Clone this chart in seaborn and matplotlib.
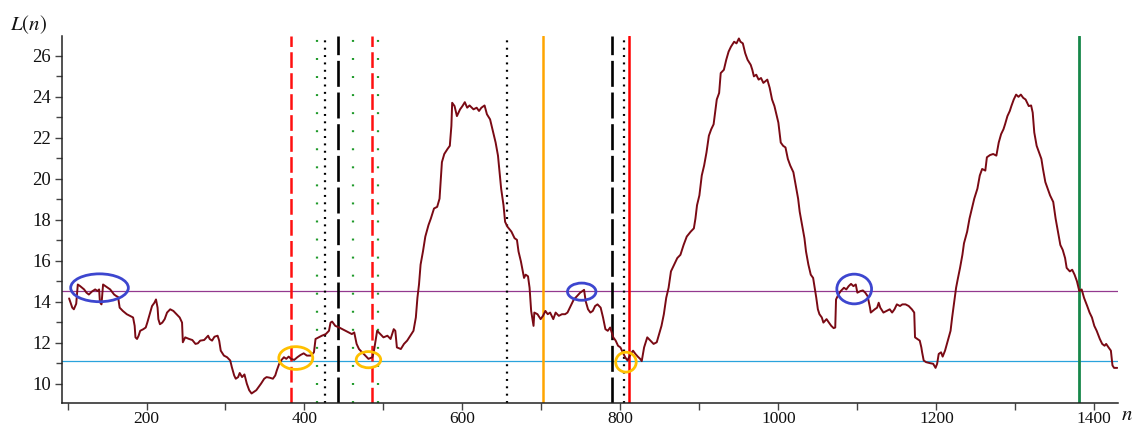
import matplotlib
matplotlib.use("Agg")
import matplotlib.pyplot as plt
from matplotlib.patches import Ellipse
from matplotlib.ticker import FixedLocator
import seaborn as sns
import pandas as pd

# Sequence index and the level L(n)
n_index = [
    102, 106, 108, 111, 113, 116, 121, 124, 127, 131, 135, 138, 140, 141, 143, 145, 148, 151, 154, 159,
    162, 164, 166, 170, 175, 179, 183, 185, 186, 188, 190, 192, 196, 199, 201, 204, 207, 210, 212, 214,
    215, 217, 220, 223, 226, 230, 234, 238, 242, 245, 246, 249, 254, 258, 262, 265, 268, 273, 278, 280,
    283, 286, 290, 292, 294, 298, 302, 306, 308, 311, 313, 316, 318, 321, 324, 327, 330, 333, 336, 339,
    342, 345, 349, 352, 356, 360, 363, 365, 368, 371, 374, 377, 380, 383, 387, 391, 395, 399, 403, 408,
    412, 414, 418, 422, 427, 431, 433, 435, 439, 444, 448, 452, 456, 460, 463, 466, 469, 473, 477, 481,
    486, 488, 490, 492, 496, 500, 505, 509, 513, 515, 517, 522, 526, 530, 534, 538, 541, 543, 545, 547,
    550, 553, 557, 560, 564, 568, 571, 574, 577, 581, 584, 586, 587, 590, 593, 597, 600, 603, 606, 609,
    614, 618, 621, 624, 628, 631, 635, 638, 642, 645, 647, 649, 652, 654, 657, 662, 666, 669, 671, 674,
    678, 680, 683, 685, 687, 690, 691, 695, 699, 702, 705, 708, 711, 715, 718, 722, 726, 730, 733, 737,
    741, 745, 749, 752, 754, 756, 759, 762, 765, 768, 771, 775, 778, 781, 784, 787, 791, 794, 797, 800,
    803, 806, 809, 813, 816, 819, 822, 825, 827, 830, 834, 838, 842, 846, 849, 852, 855, 858, 861, 864,
    868, 872, 876, 880, 884, 889, 893, 895, 897, 900, 903, 906, 909, 912, 915, 918, 922, 925, 927, 931,
    934, 937, 940, 944, 947, 950, 952, 955, 958, 961, 965, 967, 969, 972, 975, 978, 981, 986, 989, 992,
    995, 998, 1000, 1003, 1006, 1009, 1012, 1015, 1019, 1022, 1025, 1027, 1030, 1033, 1035, 1038, 1041, 1044, 1046, 1048,
    1050, 1052, 1055, 1057, 1061, 1064, 1067, 1070, 1072, 1073, 1076, 1079, 1083, 1086, 1089, 1092, 1095, 1098, 1100, 1104,
    1107, 1110, 1113, 1116, 1117, 1122, 1125, 1127, 1129, 1133, 1137, 1141, 1144, 1147, 1150, 1154, 1157, 1161, 1165, 1169,
    1172, 1173, 1176, 1179, 1181, 1182, 1184, 1187, 1192, 1196, 1199, 1201, 1203, 1206, 1208, 1211, 1214, 1218, 1220, 1223,
    1225, 1227, 1230, 1233, 1235, 1239, 1242, 1245, 1248, 1252, 1255, 1258, 1262, 1264, 1268, 1272, 1276, 1279, 1282, 1285,
    1287, 1290, 1293, 1295, 1298, 1301, 1304, 1307, 1310, 1313, 1317, 1320, 1322, 1324, 1327, 1330, 1333, 1335, 1338, 1341,
    1344, 1348, 1351, 1354, 1357, 1360, 1363, 1365, 1369, 1372, 1375, 1378, 1381, 1384, 1387, 1391, 1394, 1397, 1400, 1403,
    1407, 1410, 1413, 1415, 1418, 1421, 1423, 1425, 1429,
]
level = [
    14.16, 13.71, 13.63, 13.90, 14.84, 14.76, 14.60, 14.44, 14.35, 14.50, 14.60, 14.52, 14.60, 13.98, 13.87, 14.84, 14.76, 14.68, 14.60, 14.35,
    14.27, 14.23, 13.71, 13.55, 13.39, 13.31, 13.23, 12.82, 12.26, 12.18, 12.34, 12.58, 12.66, 12.74, 12.98, 13.39, 13.79, 13.95, 14.11, 13.71,
    13.15, 12.90, 12.98, 13.15, 13.47, 13.63, 13.55, 13.39, 13.23, 12.98, 12.02, 12.26, 12.18, 12.13, 11.94, 11.97, 12.10, 12.13, 12.34, 12.18,
    12.10, 12.29, 12.34, 12.10, 11.61, 11.37, 11.29, 11.13, 10.81, 10.40, 10.24, 10.32, 10.52, 10.32, 10.45, 10.00, 9.68, 9.52, 9.60, 9.68,
    9.84, 10.00, 10.24, 10.32, 10.29, 10.24, 10.40, 10.65, 10.97, 11.16, 11.29, 11.21, 11.32, 11.21, 11.16, 11.29, 11.40, 11.48, 11.37, 11.37,
    11.53, 12.18, 12.26, 12.34, 12.42, 12.58, 12.98, 13.03, 12.82, 12.74, 12.66, 12.58, 12.50, 12.42, 12.50, 11.94, 11.69, 11.53, 11.37, 11.21,
    11.29, 11.61, 12.10, 12.58, 12.42, 12.26, 12.34, 12.18, 12.66, 12.58, 11.77, 11.69, 11.94, 12.10, 12.34, 12.58, 13.23, 14.19, 14.84, 15.81,
    16.45, 17.18, 17.74, 18.06, 18.55, 18.63, 19.03, 20.81, 21.21, 21.45, 21.61, 22.58, 23.71, 23.55, 23.06, 23.39, 23.55, 23.74, 23.47, 23.58,
    23.39, 23.47, 23.31, 23.47, 23.58, 23.15, 22.90, 22.42, 21.77, 21.13, 20.32, 19.52, 18.71, 17.90, 17.66, 17.42, 17.10, 17.02, 16.45, 15.97,
    15.16, 15.32, 15.24, 14.68, 13.55, 12.82, 13.47, 13.39, 13.15, 13.31, 13.55, 13.39, 13.47, 13.15, 13.47, 13.31, 13.39, 13.39, 13.47, 13.79,
    14.11, 14.27, 14.44, 14.52, 14.58, 14.03, 13.63, 13.47, 13.55, 13.79, 13.87, 13.71, 13.23, 12.66, 12.58, 12.74, 12.26, 12.10, 11.85, 11.77,
    11.53, 11.29, 11.13, 11.45, 11.61, 11.45, 11.32, 11.21, 11.10, 11.77, 12.26, 12.10, 11.94, 12.02, 12.42, 12.82, 13.39, 14.19, 14.68, 15.48,
    15.81, 16.13, 16.29, 16.77, 17.18, 17.42, 17.58, 18.06, 18.71, 19.19, 20.16, 20.65, 21.29, 22.10, 22.42, 22.66, 23.87, 24.19, 25.16, 25.32,
    25.81, 26.21, 26.45, 26.69, 26.61, 26.85, 26.69, 26.61, 26.13, 25.81, 25.56, 25.32, 25.00, 25.08, 24.84, 24.92, 24.68, 24.84, 24.44, 23.87,
    23.55, 23.06, 22.74, 21.77, 21.61, 21.53, 20.97, 20.65, 20.32, 19.68, 19.03, 18.39, 17.74, 17.10, 16.45, 15.81, 15.32, 15.16, 14.68, 14.19,
    13.63, 13.39, 13.23, 12.98, 13.15, 12.98, 12.82, 12.71, 12.74, 14.11, 14.35, 14.52, 14.68, 14.60, 14.76, 14.87, 14.76, 14.84, 14.44, 14.52,
    14.55, 14.44, 14.27, 13.71, 13.47, 13.63, 13.71, 13.95, 13.71, 13.47, 13.55, 13.63, 13.47, 13.63, 13.87, 13.79, 13.87, 13.87, 13.79, 13.63,
    13.47, 12.26, 12.18, 12.10, 11.77, 11.53, 11.13, 11.05, 11.00, 10.97, 10.77, 10.97, 11.45, 11.53, 11.32, 11.61, 12.02, 12.58, 13.23, 14.11,
    14.68, 15.08, 15.65, 16.29, 16.85, 17.42, 18.06, 18.55, 19.03, 19.52, 20.16, 20.48, 20.40, 21.05, 21.16, 21.21, 21.13, 21.77, 22.18, 22.42,
    22.66, 23.06, 23.31, 23.55, 23.87, 24.11, 24.00, 24.11, 23.95, 23.87, 23.55, 23.58, 23.23, 22.26, 21.61, 21.29, 20.97, 20.48, 19.84, 19.52,
    19.19, 18.87, 18.06, 17.42, 16.77, 16.53, 16.13, 15.65, 15.48, 15.56, 15.32, 15.00, 14.52, 14.60, 14.19, 13.79, 13.47, 13.23, 12.82, 12.58,
    12.18, 11.94, 11.85, 11.94, 11.77, 11.61, 10.89, 10.77, 10.77,
]

# Threshold levels
upper_level = 14.52
lower_level = 11.13

# Marker positions along n
red_dashed_at = [383, 486]
green_dotted_at = [416, 462, 493]
black_dotted_at = [426, 657, 805]
black_dashed_at = [442, 789]
orange_at = [702]
red_solid_at = [811]
green_solid_at = [1381]

# Highlighted regions: (n centre, L centre, width in n, height in L)
blue_marks = [(140.5, 14.68, 73, 1.36), (751, 14.49, 36, 0.84), (1096, 14.62, 44, 1.45)]
orange_marks = [(389, 11.25, 43, 1.11), (481, 11.17, 31, 0.79), (807, 11.05, 26, 0.97)]

x_major = [200, 400, 600, 800, 1000, 1200, 1400]
x_minor = [100, 300, 500, 700, 900, 1100, 1300]
y_major = [10, 12, 14, 16, 18, 20, 22, 24, 26]
y_minor = [11, 13, 15, 17, 19, 21, 23, 25]

sns.set_theme(style="ticks")
plt.rcParams["font.family"] = ["Liberation Serif", "DejaVu Serif"]
plt.rcParams["mathtext.fontset"] = "stix"
plt.rcParams["lines.scale_dashes"] = False

W, H = 1134, 432
fig = plt.figure(figsize=(W / 100, H / 100), dpi=100)
left, right, bottom, top = 62, 1118, 402.5, 36
ax = fig.add_axes([left / W, 1 - bottom / H, (right - left) / W, (bottom - top) / H])

# Reference levels
ax.axhline(upper_level, color="#93398f", lw=0.9, zorder=1)
ax.axhline(lower_level, color="#2aa3dc", lw=0.9, zorder=1)

# Vertical markers
for x in red_dashed_at:
    ax.axvline(x, color="#ff1010", lw=1.8, dashes=(11.3, 3.8), zorder=2)
for x in green_dotted_at:
    ax.axvline(x, color="#1f9a2a", lw=1.6, dashes=(1.4, 11.6), zorder=2)
for x in black_dotted_at:
    ax.axvline(x, color="black", lw=1.6, dashes=(1.4, 3.9), zorder=2)
for x in black_dashed_at:
    ax.axvline(x, color="black", lw=1.9, dashes=(18.7, 4.1), zorder=2)
for x in orange_at:
    ax.axvline(x, color="#ffa500", lw=1.8, zorder=2)
for x in red_solid_at:
    ax.axvline(x, color="#ff0000", lw=1.8, zorder=2)
for x in green_solid_at:
    ax.axvline(x, color="#17874a", lw=2.0, zorder=2)

df = pd.DataFrame({"n": n_index, "L": level})
sns.lineplot(data=df, x="n", y="L", ax=ax, color="#7a0a14", lw=1.4,
             estimator=None, sort=False, zorder=3)

for cx, cy, w, h in blue_marks:
    ax.add_patch(Ellipse((cx, cy), w, h, fill=False, ec="#3d46cf", lw=2.0, zorder=4))
for cx, cy, w, h in orange_marks:
    ax.add_patch(Ellipse((cx, cy), w, h, fill=False, ec="#ffc000", lw=2.0, zorder=4))

ax.set_xlim(93, 1430)
ax.set_ylim(9.08, 26.97)
ax.set_xticks(x_major)
ax.set_xticklabels([str(v) for v in x_major])
ax.xaxis.set_minor_locator(FixedLocator(x_minor))
ax.set_yticks(y_major)
ax.set_yticklabels([str(v) for v in y_major])
ax.yaxis.set_minor_locator(FixedLocator(y_minor))
ax.set_xlabel("")
ax.set_ylabel("")

sns.despine(ax=ax)
for side in ("left", "bottom"):
    ax.spines[side].set_color("#222222")
    ax.spines[side].set_linewidth(1.1)

ax.tick_params(axis="x", which="both", length=5.0, width=1.0, color="#444444",
               labelsize=12.5, pad=1.0, labelcolor="#111111")
ax.tick_params(axis="y", which="major", length=5.0, width=1.0, color="#444444",
               labelsize=13.5, pad=3.0, labelcolor="#111111")
ax.tick_params(axis="y", which="minor", length=4.0, width=1.0, color="#444444")

fig.text(10 / W, 1 - 25 / H, "$L(n)$", ha="left", va="center", fontsize=15, color="#111111")
fig.text(1127 / W, 1 - 416 / H, "$n$", ha="center", va="center", fontsize=15, color="#111111")

fig.savefig("out.png", dpi=100)
